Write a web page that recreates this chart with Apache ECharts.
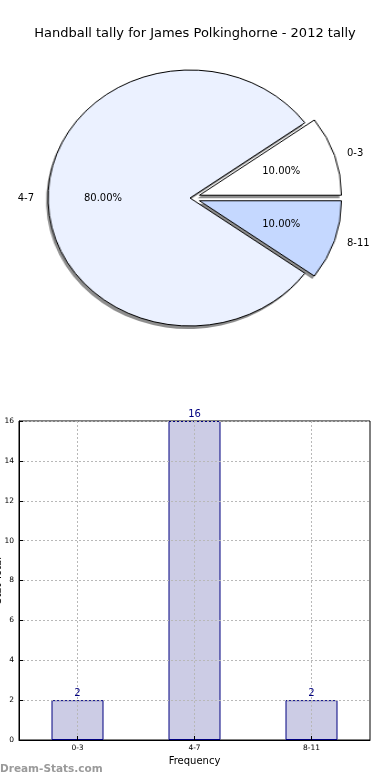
<!DOCTYPE html>
<html><head><meta charset="utf-8">
<script src="https://cdn.jsdelivr.net/npm/echarts@6/dist/echarts.min.js"></script>
<style>
html,body{margin:0;padding:0;width:390px;height:780px;overflow:hidden;background:#fff;}
#pie{position:absolute;left:0;top:0;width:390px;height:400px;transform-origin:190px 198px;transform:scaleX(1.109);}
#main{position:absolute;left:0;top:0;width:390px;height:780px;}
</style></head><body>
<div id="pie"></div><div id="main"></div>
<script>
// ---- data ----
const chartTitle = 'Handball tally for James Polkinghorne - 2012 tally';
const categories = ['0-3', '4-7', '8-11'];
const tallies = [2, 16, 2];
const explodedCategories = ['0-3', '8-11'];
const xAxisName = 'Frequency';
const yAxisName = 'Stat Total';
const yMin = 0, yMax = 16, yStep = 2;
const watermarkText = 'Dream-Stats.com';

// ---- styles ----
const FONT = 'DejaVu Sans';
const sliceColors = ['#ffffff', '#ebf1ff', '#c5d8ff'];
const CX = 190, CY = 198, R = 128, EXPLODE = 9;
const RY_RX = 128 / 142; // original pie is an ellipse

const total = tallies.reduce((a, b) => a + b, 0);
let acc = 0;
const midAngles = tallies.map(v => { const m = (acc + v / 2) / total * 360; acc += v; return m; });
function ellipseDy(dist, i) {
  const ex = explodedCategories.includes(categories[i]) ? EXPLODE : 0;
  return (1 - RY_RX) * (dist + ex) * Math.sin(midAngles[i] * Math.PI / 180);
}

const pieBase = {
  type: 'pie', startAngle: 0, clockwise: false, selectedMode: 'multiple', selectedOffset: EXPLODE,
  animation: false, avoidLabelOverlap: false, silent: true, emphasis: { disabled: true },
  labelLine: { show: false }
};
function pieData(colorFn) {
  return categories.map((c, i) => ({
    name: c, value: tallies[i], selected: explodedCategories.includes(c),
    itemStyle: { color: colorFn(i) }
  }));
}

// ---- the (stretched) pie wedges ----
const pieChart = echarts.init(document.getElementById('pie'));
pieChart.setOption({
  animation: false,
  series: [
    Object.assign({}, pieBase, {
      center: [CX - 1.8, CY + 3], radius: [0, R], label: { show: false },
      itemStyle: { borderWidth: 0 }, data: pieData(() => '#8e8e8e')
    }),
    Object.assign({}, pieBase, {
      center: [CX, CY], radius: [0, R], label: { show: false },
      itemStyle: { borderColor: '#000', borderWidth: 1 }, data: pieData(i => sliceColors[i])
    })
  ]
});

// ---- main chart: title, pie labels, bar chart ----
const PCT_R = 84, NAME_R = 156;
const main = echarts.init(document.getElementById('main'));
main.setOption({
  animation: false,
  textStyle: { fontFamily: FONT },
  title: {
    text: chartTitle, left: 'center', top: 22,
    textStyle: { fontFamily: FONT, fontSize: 13, fontWeight: 'normal', color: '#000' }
  },
  graphic: [{
    type: 'text', left: 0, top: 764,
    style: { text: watermarkText, fontFamily: FONT, fontSize: 10.5, fontWeight: 'bold', fill: '#9a9a9a' }
  }],
  grid: { left: 19, right: 20, top: 421, bottom: 40, show: true, borderColor: '#000', borderWidth: 1,
    backgroundColor: 'transparent', containLabel: false, outerBoundsMode: 'none' },
  xAxis: {
    type: 'category', data: categories, boundaryGap: true, z: 5,
    axisLine: { lineStyle: { color: '#000', width: 1 } },
    axisTick: { show: true, alignWithLabel: true, inside: true, length: 4, lineStyle: { color: '#000' } },
    axisLabel: { fontFamily: FONT, fontSize: 7.5, color: '#000', margin: 4 },
    splitLine: { show: true, alignWithLabel: true, lineStyle: { type: [2, 2], color: '#b8b8b8', width: 1 } },
    name: xAxisName, nameLocation: 'middle', nameGap: 16, nameMoveOverlap: false,
    nameTextStyle: { fontFamily: FONT, fontSize: 10, color: '#000' }
  },
  yAxis: {
    type: 'value', min: yMin, max: yMax, interval: yStep, z: 5,
    axisLine: { show: true, lineStyle: { color: '#000', width: 1 } },
    axisTick: { show: true, inside: true, length: 4, lineStyle: { color: '#000' } },
    axisLabel: { fontFamily: FONT, fontSize: 7.5, color: '#000', margin: 5 },
    splitLine: { show: true, lineStyle: { type: [2, 2], color: '#b8b8b8', width: 1 } },
    name: yAxisName, nameLocation: 'middle', nameGap: 16, nameMoveOverlap: false,
    nameTextStyle: { fontFamily: FONT, fontSize: 10, color: '#000' }
  },
  series: [
    Object.assign({}, pieBase, {
      center: [CX, CY], radius: [0, PCT_R * 2],
      itemStyle: { color: 'rgba(0,0,0,0)', borderWidth: 0 },
      label: { show: true, position: 'inside', fontFamily: FONT, fontSize: 10, color: '#000',
        formatter: p => p.percent.toFixed(2) + '%' },
      labelLayout: p => ({ dy: ellipseDy(PCT_R, p.dataIndex) }),
      data: pieData(() => 'rgba(0,0,0,0)')
    }),
    Object.assign({}, pieBase, {
      center: [CX, CY], radius: [0, NAME_R],
      itemStyle: { color: 'rgba(0,0,0,0)', borderWidth: 0 },
      label: { show: true, position: 'outside', fontFamily: FONT, fontSize: 10, color: '#000',
        distanceToLabelLine: 0, formatter: '{b}' },
      labelLine: { show: false, length: 0, length2: 0 },
      labelLayout: p => ({ dy: ellipseDy(NAME_R, p.dataIndex) * 1.2 }),
      data: pieData(() => 'rgba(0,0,0,0)')
    }),
    {
      type: 'bar', data: tallies, barWidth: 52, z: 2,
      itemStyle: { color: '#ccccE5', borderColor: '#000080', borderWidth: 1 },
      label: { show: true, position: 'top', distance: 2, fontFamily: FONT, fontSize: 10, color: '#000080' }
    }
  ]
});
</script>
</body></html>
